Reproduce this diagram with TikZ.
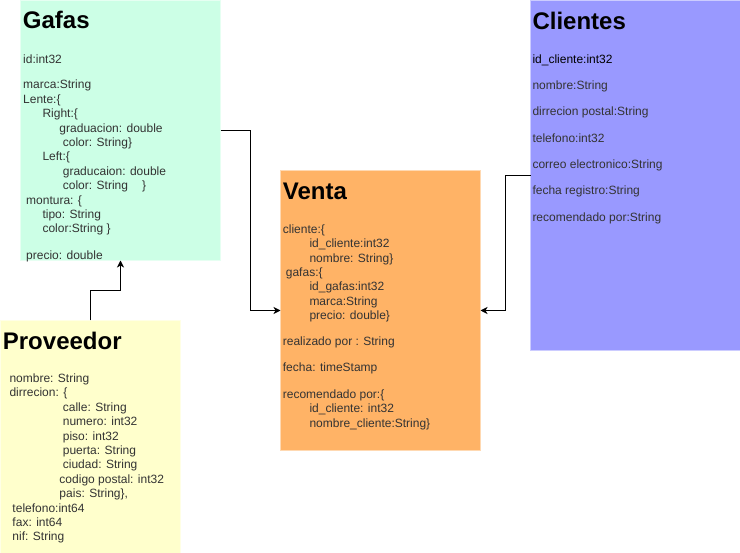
\documentclass[tikz,border=0pt]{standalone}
\usepackage{fontspec}
\setmainfont{Liberation Sans}
\usetikzlibrary{arrows.meta}
\definecolor{gafasfill}{HTML}{CCFFE6}
\definecolor{provfill}{HTML}{FFFFCC}
\definecolor{ventafill}{HTML}{FFB366}
\definecolor{clifill}{HTML}{9999FF}
\definecolor{txtgray}{HTML}{333333}
\tikzset{
  entitybox/.style={anchor=north west, inner sep=0pt, outer sep=0pt, line width=1pt},
  titletext/.style={anchor=base west, inner sep=0pt, font=\fontsize{24}{28}\selectfont\bfseries, text=black},
  bodytext/.style={anchor=base west, inner sep=0pt, font=\fontsize{12}{14}\selectfont, text=txtgray},
  conn/.style={line width=1pt, draw=black, -{Stealth[length=7pt,width=7pt,inset=2pt]}}
}
\begin{document}
\begin{tikzpicture}[x=1pt,y=-1pt]
\useasboundingbox[fill=white] (0,0) rectangle (740,553);

% boxes
\node[entitybox, fill=gafasfill, draw=gafasfill!50!white, minimum width=200pt, minimum height=260pt] (gafas) at (20.5,0.5) {};
\node[entitybox, fill=provfill, draw=provfill!50!white, minimum width=180pt, minimum height=234pt] (prov) at (0.5,320.5) {};
\node[entitybox, fill=ventafill, draw=ventafill!50!white, minimum width=200pt, minimum height=280pt] (venta) at (280.5,170.5) {};
\node[entitybox, fill=clifill, draw=clifill!50!white, minimum width=211pt, minimum height=350pt] (cli) at (530.5,0.5) {};

% Gafas
\node[titletext] (gt) at (22.7,28.3) {Gafas};
\node[bodytext] (g1) at (23,63.3) {id:int32};
\node[bodytext] (g2) at (23,89) {marca:String};
\node[bodytext] (g3) at (23,103.4) {Lente:\{};
\node[bodytext] (g4) at (42.3,117.8) {Right:\{};
\node[bodytext] (g5) at (59.3,132.2) {graduacion: double};
\node[bodytext] (g6) at (62.7,146.6) {color: String\}};
\node[bodytext] (g7) at (42.3,161) {Left:\{};
\node[bodytext] (g8) at (62.7,175.4) {graducaion: double};
\node[bodytext] (g9) at (62.7,189.8) {color: String\hspace{14pt}\}};
\node[bodytext] (g10) at (26,204.2) {montura: \{};
\node[bodytext] (g11) at (42.3,218.6) {tipo: String};
\node[bodytext] (g12) at (42.3,233) {color:String \}};
\node[bodytext] (g13) at (26,259.5) {precio: double};

% Proveedor
\node[titletext] (pt) at (2.7,350) {Proveedor};
\node[bodytext] (p1) at (9.3,382.6) {nombre: String};
\node[bodytext] (p2) at (9.3,397) {dirrecion: \{};
\node[bodytext] (p3) at (62.7,411.4) {calle: String};
\node[bodytext] (p4) at (62.7,425.8) {numero: int32};
\node[bodytext] (p5) at (62.7,440.2) {piso: int32};
\node[bodytext] (p6) at (62.7,454.6) {puerta: String};
\node[bodytext] (p7) at (62.7,469) {ciudad: String};
\node[bodytext] (p8) at (59.3,483.4) {codigo postal: int32};
\node[bodytext] (p9) at (59.3,497.8) {pais: String\},};
\node[bodytext] (p10) at (12.3,512.2) {telefono:int64};
\node[bodytext] (p11) at (12.3,526.6) {fax: int64};
\node[bodytext] (p12) at (12.3,541) {nif: String};

% Venta
\node[titletext] (vt) at (282.7,199.3) {Venta};
\node[bodytext] (v1) at (282.7,233.3) {cliente:\{};
\node[bodytext] (v2) at (309.3,247.7) {id\_cliente:int32};
\node[bodytext] (v3) at (309.3,262.1) {nombre: String\}};
\node[bodytext] (v4) at (285.7,276.5) {gafas:\{};
\node[bodytext] (v5) at (309.3,290.9) {id\_gafas:int32};
\node[bodytext] (v6) at (309.3,305.3) {marca:String};
\node[bodytext] (v7) at (309.3,319.7) {precio: double\}};
\node[bodytext] (v8) at (282.7,346) {realizado por : String};
\node[bodytext] (v9) at (282.7,372) {fecha: timeStamp};
\node[bodytext] (v10) at (282.7,398.6) {recomendado por:\{};
\node[bodytext] (v11) at (309.3,413) {id\_cliente: int32};
\node[bodytext] (v12) at (309.3,427.4) {nombre\_cliente:String\}};

% Clientes
\node[titletext] (ct) at (532.3,29.3) {Clientes};
\node[bodytext, text=black] (c1) at (532.3,63.3) {id\_cliente:int32};
\node[bodytext] (c2) at (532.3,89.6) {nombre:String};
\node[bodytext] (c3) at (532.3,115.9) {dirrecion postal:String};
\node[bodytext] (c4) at (532.3,142.2) {telefono:int32};
\node[bodytext] (c5) at (532.3,168.5) {correo electronico:String};
\node[bodytext] (c6) at (532.3,194.8) {fecha registro:String};
\node[bodytext] (c7) at (532.3,221.1) {recomendado por:String};

% connectors
\draw[conn] (gafas.east) -- ++(30,0) |- (venta.west);
\draw[conn] (cli.west) -- ++(-25,0) |- (venta.east);
\draw[conn] (prov.north) -- ++(0,-30) -| (gafas.south);
\end{tikzpicture}
\end{document}
